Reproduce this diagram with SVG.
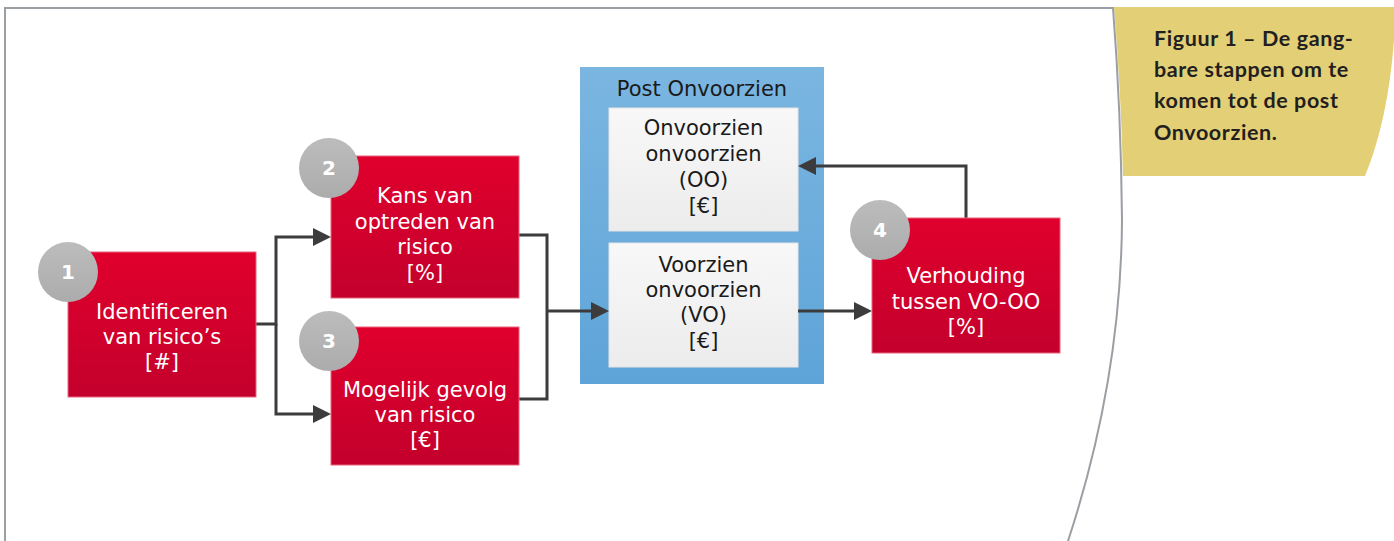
<svg xmlns="http://www.w3.org/2000/svg" width="1394" height="541" viewBox="0 0 1394 541">
  <defs>
    <linearGradient id="redFill" x1="0" y1="0" x2="0" y2="1">
      <stop offset="0" stop-color="#e0002d"/>
      <stop offset="1" stop-color="#c4002c"/>
    </linearGradient>
    <linearGradient id="greyDisc" x1="0" y1="0" x2="0" y2="1">
      <stop offset="0" stop-color="#bcbcbc"/>
      <stop offset="1" stop-color="#acacac"/>
    </linearGradient>
    <linearGradient id="blueFill" x1="0" y1="0" x2="0" y2="1">
      <stop offset="0" stop-color="#7bb6e1"/>
      <stop offset="1" stop-color="#5ea4d8"/>
    </linearGradient>
    <linearGradient id="paleFill" x1="0" y1="0" x2="0" y2="1">
      <stop offset="0" stop-color="#f8f8f8"/>
      <stop offset="1" stop-color="#ececec"/>
    </linearGradient>
    <marker id="arrow" viewBox="0 0 18 18" markerWidth="18" markerHeight="18" refX="10" refY="9" orient="auto" markerUnits="userSpaceOnUse">
      <path d="M0,0 L18,9 L0,18 Z" fill="#3c3c3c"/>
    </marker>
    <style>
      .frame { fill: none; stroke: #9a9fa4; stroke-width: 2; }
      .step { fill: url(#redFill); stroke: #e9657e; stroke-width: 1; }
      .disc { fill: url(#greyDisc); }
      .num { font-family: "DejaVu Sans", Verdana, sans-serif; font-weight: bold; font-size: 20px; fill: #ffffff; text-anchor: middle; }
      .lbl { font-family: "DejaVu Sans", Verdana, sans-serif; font-size: 21px; fill: #ffffff; text-anchor: middle; }
      .dark { fill: #1a1a1a; }
      .pale { fill: url(#paleFill); stroke: #e4e4e4; stroke-width: 1; }
      .wire { fill: none; stroke: #3c3c3c; stroke-width: 3; }
      .caption { font-family: Lato, "Noto Sans", sans-serif; font-weight: bold; font-size: 21.5px; letter-spacing: 0.6px; fill: #231f20; }
    </style>
  </defs>

  <!-- caption panel -->
  <g id="caption">
    <path d="M1114,7 L1394,7 L1394,40 Q1388,120 1365,176 L1123,176 Q1121,90 1114,7 Z" fill="#e3cf76"/>
    <text class="caption" x="1154" y="46">Figuur 1 – De gang-</text>
    <text class="caption" x="1154" y="77">bare stappen om te</text>
    <text class="caption" x="1154" y="108">komen tot de post</text>
    <text class="caption" x="1154" y="140">Onvoorzien.</text>
  </g>

  <!-- page frame with curved right edge -->
  <path class="frame" d="M5,541 L5,8 L1113,8 Q1121,110 1122,220 Q1121,380 1068,541"/>

  <!-- container: Post Onvoorzien -->
  <g id="post-onvoorzien">
    <rect x="580" y="67" width="244" height="317" fill="url(#blueFill)"/>
    <text class="lbl dark" x="702" y="96">Post Onvoorzien</text>
  </g>

  <g id="oo">
    <rect class="pale" x="609" y="108" width="189" height="123"/>
    <text class="lbl dark" x="703.5" y="135">Onvoorzien</text>
    <text class="lbl dark" x="703.5" y="161">onvoorzien</text>
    <text class="lbl dark" x="703.5" y="187">(OO)</text>
    <text class="lbl dark" x="703.5" y="213">[€]</text>
  </g>

  <g id="vo">
    <rect class="pale" x="609" y="243" width="189" height="124"/>
    <text class="lbl dark" x="703.5" y="272">Voorzien</text>
    <text class="lbl dark" x="703.5" y="297">onvoorzien</text>
    <text class="lbl dark" x="703.5" y="322">(VO)</text>
    <text class="lbl dark" x="703.5" y="348">[€]</text>
  </g>

  <!-- connectors -->
  <g id="connectors">
    <path class="wire" d="M256,324 H276 V237 H323" marker-end="url(#arrow)"/>
    <path class="wire" d="M276,324 V414 H323" marker-end="url(#arrow)"/>
    <path class="wire" d="M519,235 H547 V399 H519"/>
    <path class="wire" d="M547,311 H601" marker-end="url(#arrow)"/>
    <path class="wire" d="M798,311 H864" marker-end="url(#arrow)"/>
    <path class="wire" d="M966,218 V166 H806" marker-end="url(#arrow)"/>
  </g>

  <g id="step1">
    <rect class="step" x="68" y="252" width="188" height="145"/>
    <circle class="disc" cx="68" cy="272" r="30"/>
    <text class="num" x="68" y="279">1</text>
    <text class="lbl" x="162" y="319">Identificeren</text>
    <text class="lbl" x="162" y="344">van risico’s</text>
    <text class="lbl" x="162" y="369">[#]</text>
  </g>

  <g id="step2">
    <rect class="step" x="331" y="156" width="188" height="142"/>
    <circle class="disc" cx="329" cy="168" r="30"/>
    <text class="num" x="329" y="175">2</text>
    <text class="lbl" x="425" y="203">Kans van</text>
    <text class="lbl" x="425" y="228.5">optreden van</text>
    <text class="lbl" x="425" y="254">risico</text>
    <text class="lbl" x="425" y="279.5">[%]</text>
  </g>

  <g id="step3">
    <rect class="step" x="331" y="327" width="188" height="138"/>
    <circle class="disc" cx="329" cy="341" r="30"/>
    <text class="num" x="329" y="348">3</text>
    <text class="lbl" x="425" y="397">Mogelijk gevolg</text>
    <text class="lbl" x="425" y="422">van risico</text>
    <text class="lbl" x="425" y="447">[€]</text>
  </g>

  <g id="step4">
    <rect class="step" x="872" y="218" width="188" height="135"/>
    <circle class="disc" cx="880" cy="230" r="30"/>
    <text class="num" x="880" y="237">4</text>
    <text class="lbl" x="966" y="283">Verhouding</text>
    <text class="lbl" x="966" y="308.5">tussen VO-OO</text>
    <text class="lbl" x="966" y="334">[%]</text>
  </g>
</svg>
